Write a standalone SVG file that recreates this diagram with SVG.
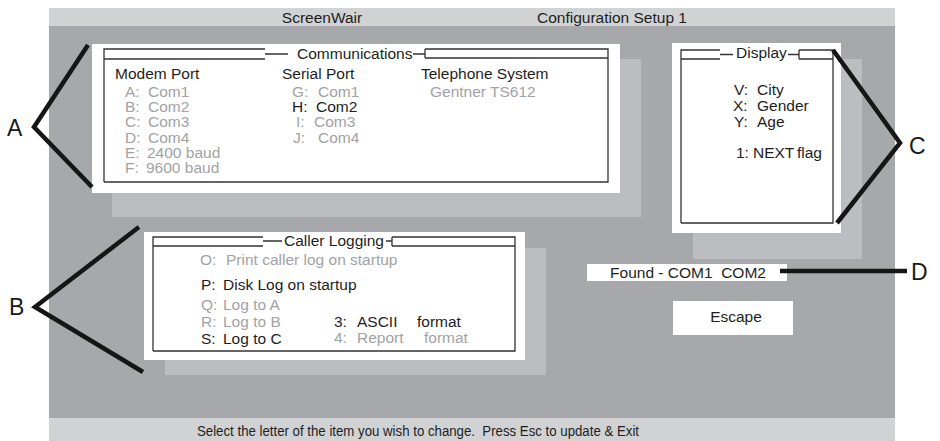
<svg xmlns="http://www.w3.org/2000/svg" width="940" height="441" viewBox="0 0 940 441">
<style>
text{font-family:"Liberation Sans",Arial,sans-serif;font-size:15.5px;fill:#1e1e1e;white-space:pre}
.g{fill:#a2a2a4}
.lbl{font-size:23px;fill:#1a1a1a}
.foot{font-size:14px}
.frame{fill:none;stroke:#333;stroke-width:1.3}
.br{fill:none;stroke:#161616;stroke-width:4.5;stroke-linecap:butt;stroke-linejoin:miter}
.bar{fill:#d1d2d4}
.bg{fill:#a7a8ab}
.shadow{fill:#bcbdc0}
.panel{fill:#fff}
</style>
<rect width="940" height="441" fill="#fff"/>
<g id="screen">
<rect class="bar" x="49" y="8" width="846" height="18"/>
<rect class="bg" x="49" y="26" width="846" height="392"/>
<rect class="bar" x="49" y="418" width="846" height="23"/>
<text x="322" y="23" text-anchor="middle">ScreenWair</text>
<text x="612" y="23" text-anchor="middle">Configuration Setup 1</text>
<text class="foot" x="197" y="436" textLength="442" lengthAdjust="spacingAndGlyphs">Select the letter of the item you wish to change.  Press Esc to update &amp; Exit</text>
</g>
<g id="communications">
<rect class="shadow" x="112" y="59" width="529" height="158"/>
<rect class="panel" x="92" y="44" width="528" height="149"/>
<path class="frame" d="M104,182V49H265M104,59H265M265,54H288M413,54H425M425,49V58M425,49H608V182H104M425,58H608"/>
<text x="297" y="59">Communications</text>
<text x="115" y="79">Modem Port</text>
<text class="g" x="125" y="97">A:<tspan x="148">Com1</tspan></text>
<text class="g" x="125" y="112">B:<tspan x="148">Com2</tspan></text>
<text class="g" x="125" y="127">C:<tspan x="148">Com3</tspan></text>
<text class="g" x="125" y="143">D:<tspan x="148">Com4</tspan></text>
<text class="g" x="125" y="158">E:<tspan x="147">2400 baud</tspan></text>
<text class="g" x="125" y="173">F:<tspan x="146">9600 baud</tspan></text>
<text x="282" y="79">Serial Port</text>
<text class="g" x="292" y="97">G:<tspan x="318">Com1</tspan></text>
<text x="292" y="112">H:<tspan x="316">Com2</tspan></text>
<text class="g" x="296" y="127">I:<tspan x="314">Com3</tspan></text>
<text class="g" x="293" y="143">J:<tspan x="318">Com4</tspan></text>
<text x="421" y="79">Telephone System</text>
<text class="g" x="430" y="97">Gentner TS612</text>
</g>
<g id="display">
<rect class="shadow" x="693" y="59" width="169" height="200"/>
<rect class="panel" x="672" y="43" width="169" height="190"/>
<path class="frame" d="M681,223V50H720M681,59H720M720,54.5H733M788,54.5H799M799,50V59M799,50H833V223H681M799,59H833"/>
<text x="736" y="58">Display</text>
<text x="734" y="95">V:<tspan x="757">City</tspan></text>
<text x="733" y="111">X:<tspan x="757">Gender</tspan></text>
<text x="734" y="127">Y:<tspan x="757">Age</tspan></text>
<text x="736" y="158">1:<tspan x="753">NEXT</tspan><tspan x="797">flag</tspan></text>
</g>
<g id="caller-logging">
<rect class="shadow" x="165" y="248" width="381" height="127"/>
<rect class="panel" x="144" y="232" width="381" height="128"/>
<path class="frame" d="M153,351V237H263M153,246H263M263,241H282M386,241H392M392,237V246M392,237H515V351H153M392,246H515"/>
<text x="284" y="246">Caller Logging</text>
<text class="g" x="200" y="265">O:<tspan x="226">Print caller log on startup</tspan></text>
<text x="201" y="290">P:<tspan x="223">Disk Log on startup</tspan></text>
<text class="g" x="201" y="310">Q:<tspan x="223">Log to A</tspan></text>
<text class="g" x="201" y="327">R:<tspan x="223">Log to B</tspan></text>
<text x="201" y="344">S:<tspan x="223">Log to C</tspan></text>
<text x="334" y="327">3:<tspan x="357">ASCII</tspan><tspan x="417">format</tspan></text>
<text class="g" x="334" y="343">4:<tspan x="357">Report</tspan><tspan x="424">format</tspan></text>
</g>
<g id="found">
<rect class="panel" x="587" y="264" width="200" height="17"/>
<text x="688" y="278" text-anchor="middle">Found - COM1  COM2</text>
</g>
<g id="escape">
<rect class="panel" x="673" y="301" width="120" height="34"/>
<text x="736" y="322" text-anchor="middle">Escape</text>
</g>
<g id="connectors">
<polyline class="br" points="88,45 34,127 92,187"/>
<polyline class="br" points="139,227 35,307 143,372"/>
<polyline class="br" points="833,50 900,143 837,223"/>
<line class="br" x1="780" y1="271" x2="907" y2="271"/>
</g>
<g id="labels">
<text class="lbl" x="7" y="136">A</text>
<text class="lbl" x="9" y="315">B</text>
<text class="lbl" x="909" y="154">C</text>
<text class="lbl" x="911" y="280">D</text>
</g>
</svg>
